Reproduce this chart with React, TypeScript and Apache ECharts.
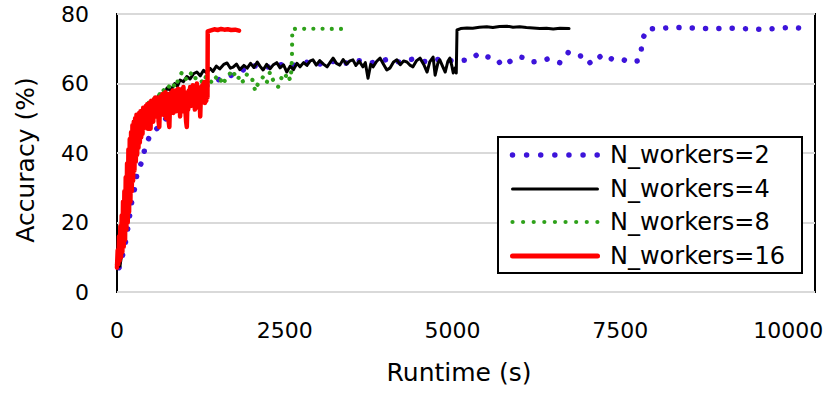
import React, { useEffect, useRef } from "react";
import * as echarts from "echarts";

// ---- data (runtime s, accuracy %) ----
const seriesNames = ["N_workers=2", "N_workers=4", "N_workers=8", "N_workers=16"];

const workers2: [number, number][] = [
  [30, 7], [45, 7.2], [90, 11.2], [134, 15], [164, 18.7], [194, 22.7], [224, 26.5], [268, 30.2],
  [298, 34], [373, 37.7], [417, 41.4], [492, 45.2], [560, 46.5], [656, 48], [750, 50.5], [850, 52.5],
  [950, 54.5], [1050, 56], [1200, 58], [1350, 59.5], [1500, 61], [1650, 62], [1800, 63], [2000, 65.3],
  [2200, 64.5], [2400, 65.5], [2600, 65], [2800, 66.2], [3000, 65.5], [3200, 66.4], [3400, 65.8],
  [3600, 66.6], [3800, 66], [4000, 66.8], [4200, 66.2], [4400, 67], [4600, 66.3], [4800, 67],
  [5000, 66.5], [5260, 66.8], [5394, 68.7], [5513, 67.7], [5662, 67], [5737, 65.1], [5841, 66.2],
  [5975, 67.7], [6109, 67.3], [6198, 66.2], [6318, 66.5], [6422, 67.1], [6601, 66], [6720, 68.9],
  [6869, 67.7], [6958, 68.2], [7063, 65.6], [7152, 67], [7241, 68.4], [7376, 67], [7525, 67],
  [7644, 66.1], [7763, 66.5], [7808, 68.7], [7823, 72.4], [7897, 75.7], [8091, 75.8], [8284, 76.2],
  [8493, 76], [8687, 75.9], [8880, 75.8], [9089, 75.9], [9283, 75.9], [9476, 75.6], [9670, 75.6],
  [9864, 75.9], [10057, 76.2], [10236, 75.8],
];

const workers4: [number, number][] = [
  [0, 7], [45, 7.5], [90, 13.5], [140, 20.5], [190, 27.5], [238, 34.5], [290, 40], [340, 45], [400, 50],
  [462, 53], [520, 54.5], [580, 55.5], [640, 57], [700, 56.5], [745, 58.7], [800, 58], [860, 60],
  [900, 59.2], [940, 61], [990, 60.5], [1040, 62], [1090, 61.3], [1140, 62.8], [1190, 63.3],
  [1240, 62.2], [1290, 63.8], [1340, 63], [1385, 64.4], [1430, 63.5], [1480, 65], [1530, 64.2],
  [1590, 65.5], [1640, 65.9], [1690, 64.4], [1730, 64.7], [1780, 65.6], [1830, 64], [1890, 65.2],
  [1940, 64.4], [1990, 65.8], [2040, 64.6], [2090, 66.2], [2130, 65], [2177, 63.9], [2230, 65.5],
  [2280, 64.2], [2325, 65.3], [2380, 66], [2430, 64.5], [2480, 65.4], [2530, 63.3], [2580, 65],
  [2630, 64], [2680, 65.8], [2727, 64.8], [2780, 66], [2830, 65.2], [2880, 66.5], [2920, 66.8],
  [2970, 65.3], [3020, 66.6], [3080, 65.5], [3130, 64.8], [3180, 66.2], [3220, 67.3], [3270, 65.8],
  [3320, 65.3], [3370, 66.9], [3420, 65.6], [3470, 66.5], [3515, 66.8], [3560, 65.2], [3610, 66.4],
  [3665, 64.8], [3700, 66], [3740, 61.5], [3780, 65.5], [3815, 64.8], [3870, 66.4], [3920, 67.3],
  [3960, 65.9], [4020, 63.9], [4070, 64.5], [4120, 66.2], [4170, 66.8], [4220, 65.4], [4270, 66.5],
  [4320, 66.2], [4370, 65.2], [4410, 64.8], [4460, 66.5], [4515, 67.3], [4570, 65.5], [4620, 63.3],
  [4660, 66.2], [4710, 67.6], [4740, 62.4], [4780, 65.8], [4810, 66.8], [4850, 65], [4890, 63.3],
  [4930, 66.4], [4960, 67.3], [4990, 65], [5010, 63], [5040, 64.5], [5055, 63], [5066, 75.4],
  [5120, 75.8], [5215, 76], [5300, 75.9], [5400, 76.2], [5510, 76.3], [5600, 76.1], [5700, 76.4],
  [5810, 76.5], [5900, 76.2], [6000, 76.3], [6100, 76.1], [6200, 76], [6300, 75.8], [6400, 75.9],
  [6500, 75.7], [6600, 75.9], [6735, 75.8],
];

const workers8: [number, number][] = [
  [0, 8], [60, 14], [120, 21], [180, 28], [240, 34], [290, 44], [343, 51], [387, 52.4], [440, 53.5],
  [490, 55], [537, 56], [600, 55.2], [670, 58.6], [720, 57.5], [770, 59], [820, 60.4], [870, 58.8],
  [920, 61.5], [970, 63.3], [1010, 61.8], [1045, 61], [1085, 62.5], [1120, 63.3], [1165, 61.5],
  [1210, 62], [1250, 61], [1280, 60], [1330, 62.2], [1385, 60.8], [1430, 60], [1465, 61.5],
  [1505, 62.4], [1545, 61], [1580, 59.6], [1630, 62], [1680, 62.8], [1730, 63.9], [1760, 62],
  [1790, 61], [1835, 62.3], [1880, 60.4], [1940, 62.8], [2010, 61.6], [2060, 57.8], [2110, 60.5],
  [2150, 61.2], [2180, 62], [2230, 60.2], [2280, 63.3], [2325, 61], [2360, 60.2], [2400, 59],
  [2430, 60.8], [2460, 62], [2500, 61.2], [2530, 63], [2580, 61], [2600, 64], [2607, 68],
  [2612, 75.7], [2700, 75.8], [2850, 75.7], [3000, 75.8], [3150, 75.7], [3300, 75.7], [3420, 75.7],
];

const workers16: [number, number][] = [
  [0, 7], [10, 12], [20, 8], [30, 16], [40, 9], [50, 19], [60, 10], [70, 22], [80, 11.5], [90, 26],
  [100, 13], [110, 29], [120, 15], [130, 33], [140, 18], [150, 37], [160, 20], [170, 41], [180, 23],
  [190, 44], [200, 26], [210, 46], [220, 29], [230, 48], [240, 32], [250, 49], [260, 35], [270, 50],
  [280, 37.5], [290, 51], [300, 39.5], [310, 50.5], [320, 41.5], [330, 51.5], [340, 43], [350, 52],
  [360, 44.5], [370, 51], [380, 45.5], [390, 53], [400, 47], [410, 52.5], [420, 47.5], [430, 53.5],
  [440, 48], [450, 54], [460, 47], [470, 53], [480, 48.5], [490, 54.5], [500, 47], [510, 55],
  [520, 51], [530, 54], [540, 49], [550, 55.5], [560, 51.5], [570, 56], [580, 50.5], [590, 55],
  [600, 52], [610, 56], [620, 49], [630, 47.5], [640, 54], [650, 51], [660, 56.5], [670, 52.5],
  [680, 57], [690, 51], [700, 55.5], [710, 52], [720, 57.5], [730, 50], [740, 56], [750, 53],
  [760, 57], [770, 49], [780, 47.5], [790, 55], [800, 52], [810, 57.5], [820, 53], [830, 58],
  [840, 51.5], [850, 56.5], [860, 53], [870, 58], [880, 52], [890, 57], [900, 54], [910, 58.5],
  [920, 52.5], [930, 57], [940, 50.5], [950, 56], [960, 53.5], [970, 58.5], [980, 52], [990, 59],
  [1000, 54], [1010, 57.5], [1020, 52], [1030, 49], [1040, 47.5], [1050, 55], [1060, 52.5],
  [1070, 58], [1080, 54], [1090, 59], [1100, 53.5], [1110, 58.5], [1120, 55], [1130, 59.5],
  [1140, 54], [1150, 58], [1160, 52.5], [1170, 59], [1180, 55], [1190, 60], [1200, 54.5],
  [1210, 59], [1220, 53], [1230, 56], [1240, 50.5], [1250, 57], [1260, 54.5], [1270, 59.5],
  [1280, 55], [1290, 60], [1300, 60.4], [1311, 54.4], [1320, 58.5], [1330, 55], [1340, 58],
  [1348, 56], [1352, 75], [1400, 75.3], [1450, 75.6], [1500, 75.4], [1550, 75.7], [1600, 75.5],
  [1650, 75.6], [1700, 75.4], [1760, 75.5], [1818, 75.2],
];

const xTicks = [0, 2500, 5000, 7500, 10000];
const yTicks = [0, 20, 40, 60, 80];

const FONT = "DejaVu Sans";
const COLORS = ["#3D14DA", "#000000", "#2EA11A", "#FF0000"];

export default function App() {
  const ref = useRef<HTMLDivElement>(null);
  useEffect(() => {
    if (!ref.current) return;
    const chart = echarts.init(ref.current, undefined, { renderer: "svg" });
    const mk = (
      name: string,
      data: [number, number][],
      color: string,
      width: number,
      type: any
    ) => ({
      name,
      type: "line",
      data,
      showSymbol: false,
      symbol: "none",
      color,
      lineStyle: { color, width, type, cap: "round", join: "round" },
      emphasis: { disabled: true },
    });

    // legend drawn as graphic elements
    const rows = [155, 189, 222, 256];
    const legendStyles = [
      { lineWidth: 5.5, lineDash: [0.01, 14.1] },
      { lineWidth: 3, lineDash: null },
      { lineWidth: 4.2, lineDash: [0.01, 10.6] },
      { lineWidth: 5, lineDash: null },
    ];
    const legendEls: any[] = [
      {
        type: "rect",
        z: 100,
        shape: { x: 498, y: 137, width: 304, height: 136 },
        style: { fill: "#fff", stroke: "#000", lineWidth: 2 },
      },
    ];
    seriesNames.forEach((n, i) => {
      legendEls.push({
        type: "line",
        z: 101,
        shape: { x1: 512.5, y1: rows[i], x2: 597.5, y2: rows[i] },
        style: {
          stroke: COLORS[i],
          lineWidth: legendStyles[i].lineWidth,
          lineDash: legendStyles[i].lineDash,
          lineCap: "round",
        },
      });
      legendEls.push({
        type: "text",
        z: 101,
        x: 610,
        y: rows[i],
        style: {
          text: n,
          fontFamily: FONT,
          fontSize: 24,
          fill: "#000",
          textAlign: "left",
          textVerticalAlign: "middle",
        },
      });
    });

    chart.setOption({
      animation: false,
      backgroundColor: "#fff",
      grid: {
        left: 117,
        right: 17,
        top: 14,
        bottom: 102,
        show: true,
        borderColor: "#000",
        borderWidth: 2,
        backgroundColor: "transparent",
      },
      xAxis: {
        type: "value",
        min: xTicks[0],
        max: 10400,
        interval: 2500,
        axisLine: { show: false },
        axisTick: { show: false },
        splitLine: { show: false },
        axisLabel: {
          showMaxLabel: false,
          margin: 27,
          fontFamily: FONT,
          fontSize: 22,
          color: "#000",
          formatter: (v: number) => (xTicks.includes(v) ? String(v) : ""),
        },
      },
      yAxis: {
        type: "value",
        min: yTicks[0],
        max: yTicks[yTicks.length - 1],
        interval: 20,
        axisLine: { show: false },
        axisTick: { show: false },
        splitLine: { show: true, lineStyle: { color: "#D9D9D9", width: 2 } },
        axisLabel: { margin: 28, fontFamily: FONT, fontSize: 22, color: "#000" },
      },
      graphic: [
        {
          type: "text",
          x: 25,
          y: 160,
          rotation: Math.PI / 2,
          style: {
            text: "Accuracy (%)",
            fontFamily: FONT,
            fontSize: 25,
            fill: "#000",
            textAlign: "center",
            textVerticalAlign: "middle",
          },
        },
        {
          type: "text",
          x: 459,
          y: 372,
          style: {
            text: "Runtime (s)",
            fontFamily: FONT,
            fontSize: 25,
            fill: "#000",
            textAlign: "center",
            textVerticalAlign: "middle",
          },
        },
        ...legendEls,
      ],
      series: [
        mk(seriesNames[0], workers2, COLORS[0], 5.5, [0.01, 13.3]),
        mk(seriesNames[1], workers4, COLORS[1], 3, "solid"),
        mk(seriesNames[2], workers8, COLORS[2], 4.2, [0.01, 9.2]),
        mk(seriesNames[3], workers16, COLORS[3], 4.5, "solid"),
      ],
    });
    return () => chart.dispose();
  }, []);
  return (
    <div
      ref={ref}
      style={{ position: "fixed", left: 0, top: 0, width: 832, height: 394, background: "#fff" }}
    />
  );
}
